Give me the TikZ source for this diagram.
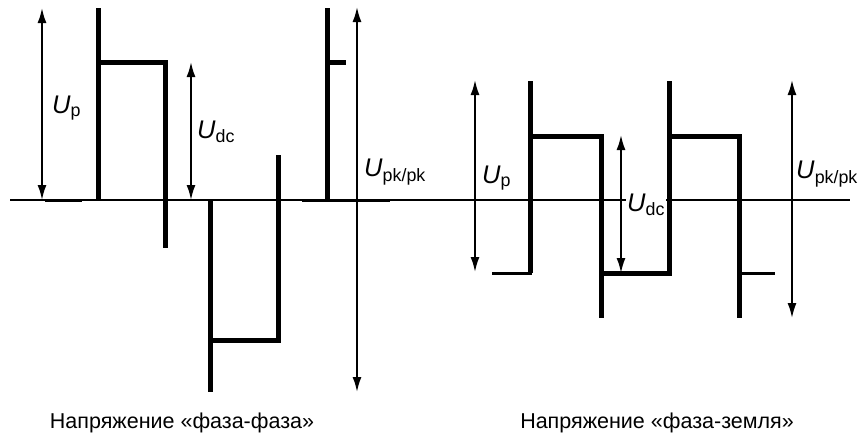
\documentclass[tikz,border=0pt]{standalone}
\usepackage{fontspec}
\setmainfont{Liberation Sans}
\usetikzlibrary{arrows.meta}

\tikzset{
	axis/.style={line width=2pt},
	level/.style={line width=3pt},
	wave/.style={line width=5pt},
	meas/.style={line width=1.8pt, {Latex[length=15pt,width=9pt]}-{Latex[length=15pt,width=9pt]}},
	lbl/.style={anchor=west, inner sep=1pt, font=\fontsize{25.5}{28}\selectfont},
	capt/.style={font=\fontsize{21.5}{24}\selectfont},
}
\newcommand{\volt}[1]{\textit{U}\textsubscript{#1}}

\begin{document}
\begin{tikzpicture}[x=1pt, y=-1pt]
	\useasboundingbox (0,0) rectangle (859,439);
	% zero line
	\coordinate (a1) at (10,200);
	\coordinate (a2) at (850,200);
	\draw [axis] (a1) -- (a2);
	%
	% phase to phase
	\draw [level] (45,200) -- (82,200);
	\draw [level] (302,200) -- (390,200);
	\draw [wave] (98,200) -- (98,8);
	\draw [wave] (98,62) -- (165,62) -- (165,248);
	\draw [wave] (210,200) -- (210,392);
	\draw [wave] (210,340) -- (278,340) -- (278,155);
	\draw [wave] (327,200) -- (327,8);
	\draw [wave] (327,62) -- (346,62);
	%
	\coordinate (p1) at (42,8);
	\coordinate (p2) at (42,200);
	\coordinate (d1) at (191,62);
	\coordinate (d2) at (191,200);
	\coordinate (k1) at (357,7);
	\coordinate (k2) at (357,392);
	\draw [meas] (p1) -- (p2);
	\draw [meas] (d1) -- (d2);
	\draw [meas] (k1) -- (k2);
	\node [lbl] (up1) at (51,108) {\volt{p}};
	\node [lbl] (udc1) at (196,132) {\volt{dc}};
	\node [lbl] (upk1) at (363,172) {\volt{pk/pk}};
	%
	% phase to earth
	\draw [level] (492,273) -- (532,273);
	\draw [level] (740,273) -- (775,273);
	\draw [wave] (530,273) -- (530,81);
	\draw [wave] (530,136) -- (601,136) -- (601,318);
	\draw [wave] (601,273) -- (669,273) -- (669,81);
	\draw [wave] (669,136) -- (739,136) -- (739,318);
	%
	\coordinate (p3) at (475,80);
	\coordinate (p4) at (475,272);
	\coordinate (d3) at (621,135);
	\coordinate (d4) at (621,273);
	\coordinate (k3) at (792,80);
	\coordinate (k4) at (792,318);
	\draw [meas] (p3) -- (p4);
	\draw [meas] (d3) -- (d4);
	\draw [meas] (k3) -- (k4);
	\node [lbl] (up2) at (481,178) {\volt{p}};
	\node [lbl, fill=white] (udc2) at (626,205) {\volt{dc}};
	\node [lbl] (upk2) at (795,174) {\volt{pk/pk}};
	%
	\node [capt] (c1) at (182,423) {Напряжение «фаза-фаза»};
	\node [capt] (c2) at (657,423) {Напряжение «фаза-земля»};
\end{tikzpicture}
\end{document}
